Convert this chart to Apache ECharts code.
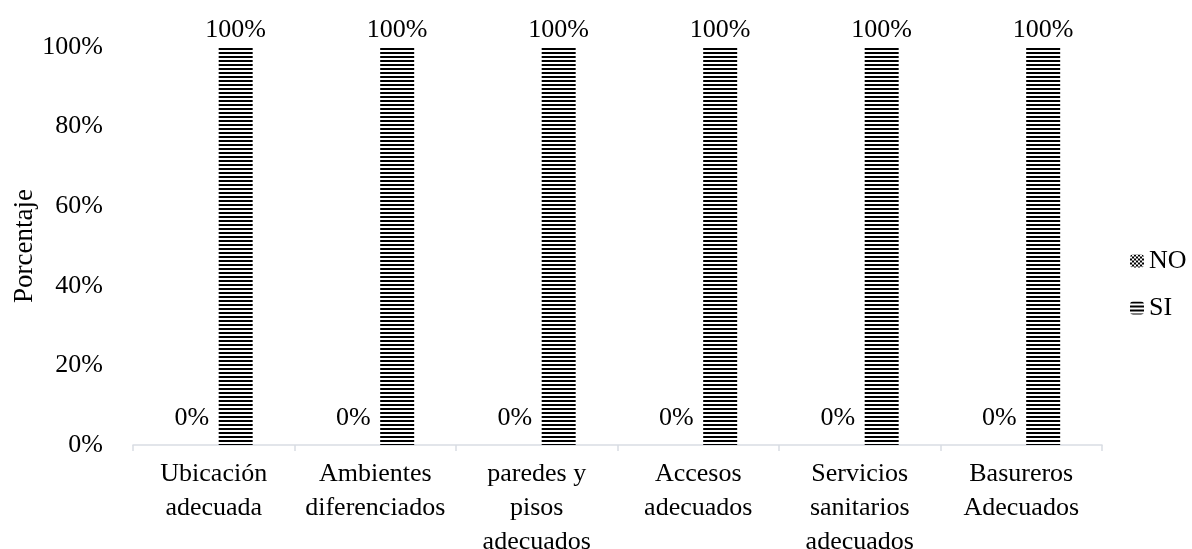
<!DOCTYPE html>
<html>
<head>
<meta charset="utf-8">
<script src="https://cdn.jsdelivr.net/npm/echarts@6/dist/echarts.min.js"></script>
<style>html,body{margin:0;padding:0;background:#fff;}#c{width:1192px;height:549px;}</style>
</head>
<body>
<div id="c"></div>
<script>
const categories = ["Ubicación\nadecuada", "Ambientes\ndiferenciados", "paredes y\npisos\nadecuados", "Accesos\nadecuados", "Servicios\nsanitarios\nadecuados", "Basureros\nAdecuados"];
const noValues = [0, 0, 0, 0, 0, 0];
const siValues = [100, 100, 100, 100, 100, 100];
const yTicks = [0, 20, 40, 60, 80, 100];

function stripes() {
  const c = document.createElement('canvas');
  c.width = 4; c.height = 4;
  const g = c.getContext('2d');
  g.fillStyle = '#fff'; g.fillRect(0, 0, 4, 4);
  g.fillStyle = '#000'; g.fillRect(0, 0, 4, 2);
  return c;
}
function checker() {
  const c = document.createElement('canvas');
  c.width = 4; c.height = 4;
  const g = c.getContext('2d');
  g.fillStyle = '#fff'; g.fillRect(0, 0, 4, 4);
  g.fillStyle = '#000'; g.fillRect(0, 0, 2, 2); g.fillRect(2, 2, 2, 2);
  return c;
}
const FONT = 'Liberation Serif';
const FS = 26;
const chart = echarts.init(document.getElementById('c'));
chart.setOption({
  animation: false,
  textStyle: { fontFamily: FONT },
  grid: { left: 133, right: 90, top: 47, bottom: 104, containLabel: false, outerBoundsMode: 'none' },
  legend: {
    orient: 'vertical', left: 1125, top: 243,
    itemWidth: 14, itemHeight: 13, itemGap: 21,
    textStyle: { fontFamily: FONT, fontSize: FS, color: '#000' },
    data: ['NO', 'SI']
  },
  xAxis: {
    type: 'category', data: categories,
    axisLine: { lineStyle: { color: '#d9dde3', width: 1.5 } },
    axisTick: { show: true, length: 6, lineStyle: { color: '#d9dde3', width: 1.5 } },
    axisLabel: { fontFamily: FONT, fontSize: FS, color: '#000', lineHeight: 34, margin: 12, interval: 0 }
  },
  yAxis: {
    type: 'value', min: 0, max: 100, interval: 20,
    name: 'Porcentaje', nameLocation: 'middle', nameGap: 95, nameMoveOverlap: false,
    nameTextStyle: { fontFamily: FONT, fontSize: 27, color: '#000' },
    axisLine: { show: false }, axisTick: { show: false }, splitLine: { show: false },
    axisLabel: { fontFamily: FONT, fontSize: FS, color: '#000', margin: 30,
      formatter: v => yTicks.includes(v) ? v + '%' : '' }
  },
  series: [
    { name: 'NO', type: 'bar', data: noValues, barWidth: 34, barGap: '29%',
      itemStyle: { color: { image: checker(), repeat: 'repeat' } },
      label: { show: true, position: 'top', distance: 14, formatter: '{c}%', fontFamily: FONT, fontSize: FS, color: '#000' } },
    { name: 'SI', type: 'bar', data: siValues, barWidth: 34, barGap: '29%',
      itemStyle: { color: { image: stripes(), repeat: 'repeat' } },
      label: { show: true, position: 'top', distance: 4, formatter: '{c}%', fontFamily: FONT, fontSize: FS, color: '#000' } }
  ]
});
</script>
</body>
</html>
